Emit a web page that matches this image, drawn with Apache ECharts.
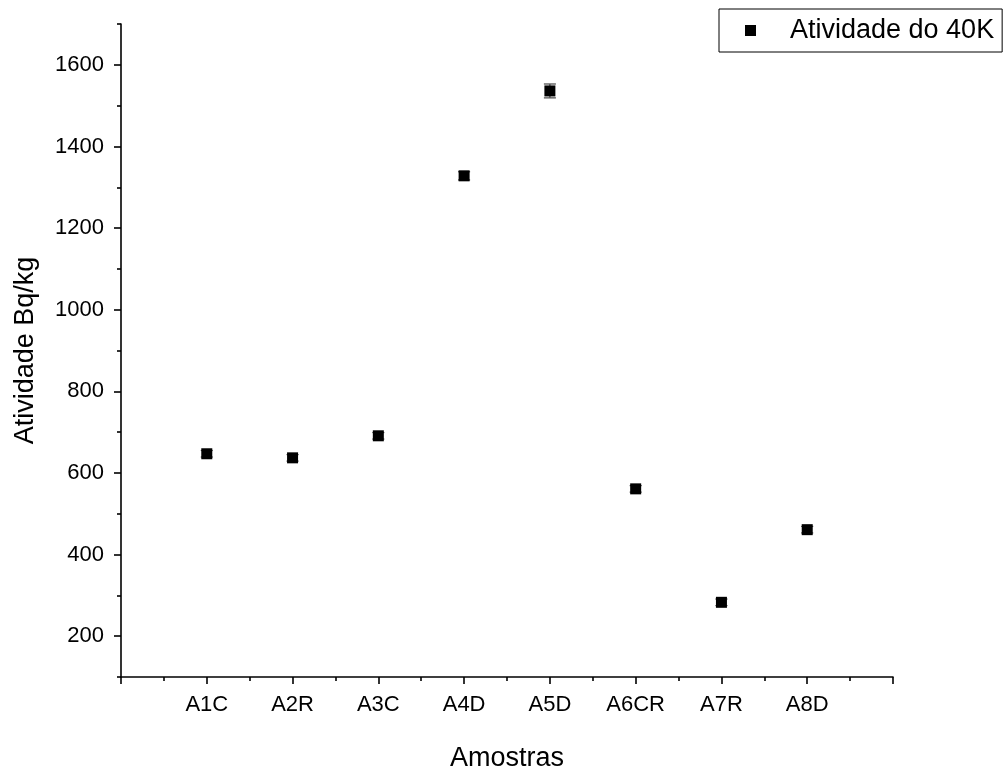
<!DOCTYPE html>
<html>
<head>
<meta charset="utf-8">
<script src="https://cdn.jsdelivr.net/npm/echarts@6/dist/echarts.min.js"></script>
<style>html,body{margin:0;padding:0;background:#fff;}#c{width:1008px;height:772px;}</style>
</head>
<body>
<div id="c"></div>
<script>
const categories = ['A1C', 'A2R', 'A3C', 'A4D', 'A5D', 'A6CR', 'A7R', 'A8D'];
const activity = [647, 637, 691, 1328, 1536, 561, 283, 461];
const activityErr = [8, 8, 8, 10, 17, 8, 8, 8];
const yMajorTicks = [200, 400, 600, 800, 1000, 1200, 1400, 1600];
const seriesName = 'Atividade do 40K';

const FONT = 'Liberation Sans, Arial, sans-serif';
const pts = activity.map((v, i) => [i + 1, v]);
const errData = activity.map((v, i) => [i + 1, v - activityErr[i], v + activityErr[i]]);

const chart = echarts.init(document.getElementById('c'), null, {renderer: 'canvas'});
chart.setOption({
  animation: false,
  backgroundColor: '#fff',
  grid: {left: 121, right: 115, top: 24, bottom: 95, containLabel: false, outerBoundsMode: 'none'},
  legend: {
    left: 719, top: 9,
    orient: 'vertical',
    borderColor: '#000', borderWidth: 1,
    padding: [8, 8, 8, 26],
    itemWidth: 11, itemHeight: 11,
    icon: 'rect',
    itemStyle: {color: '#000', opacity: 1},
    data: [seriesName],
    textStyle: {fontFamily: FONT, fontSize: 27, color: '#000', padding: [0, 0, 0, 29], lineHeight: 27}
  },
  xAxis: {
    type: 'value', min: 0, max: 9, interval: 1,
    axisLine: {show: true, lineStyle: {color: '#000', width: 1.6}},
    axisTick: {show: true, length: 7, lineStyle: {color: '#000', width: 1.6}},
    minorTick: {show: true, splitNumber: 2, length: 4, lineStyle: {color: '#000', width: 1.6}},
    splitLine: {show: false},
    axisLabel: {
      color: '#000', fontFamily: FONT, fontSize: 22, margin: 17,
      formatter: v => (v >= 1 && v <= categories.length) ? categories[v - 1] : ''
    },
    name: 'Amostras', nameLocation: 'middle', nameGap: 68,
    nameTextStyle: {fontFamily: FONT, fontSize: 27, color: '#000'}
  },
  yAxis: [{
    type: 'value', min: 100, max: 1700, interval: 200, position: 'left',
    axisLine: {show: true, lineStyle: {color: '#000', width: 1.6}},
    axisTick: {show: true, length: 4, lineStyle: {color: '#000', width: 1.6}},
    axisLabel: {show: false},
    splitLine: {show: false},
    name: 'Atividade Bq/kg', nameLocation: 'middle', nameGap: 82,
    nameTextStyle: {fontFamily: FONT, fontSize: 27, color: '#000'}
  }, {
    type: 'value', min: 100, max: 1700, interval: 100, position: 'left', offset: 0,
    axisLine: {show: false},
    axisTick: {show: true, length: 7, customValues: yMajorTicks, lineStyle: {color: '#000', width: 1.6}},
    axisLabel: {show: true, customValues: yMajorTicks, color: '#000', fontFamily: FONT, fontSize: 22, margin: 17,
      formatter: v => String(v)},
    splitLine: {show: false}
  }],
  series: [{
    type: 'custom',
    name: 'err',
    yAxisIndex: 0,
    silent: true,
    z: 1,
    data: errData,
    renderItem: function (params, api) {
      const x = api.value(0);
      const lo = api.coord([x, api.value(1)]);
      const hi = api.coord([x, api.value(2)]);
      const hw = 6;
      const st = {stroke: '#444', lineWidth: 1.2};
      return {type: 'group', children: [
        {type: 'line', shape: {x1: lo[0], y1: lo[1], x2: hi[0], y2: hi[1]}, style: st},
        {type: 'line', shape: {x1: lo[0] - hw, y1: lo[1], x2: lo[0] + hw, y2: lo[1]}, style: st},
        {type: 'line', shape: {x1: hi[0] - hw, y1: hi[1], x2: hi[0] + hw, y2: hi[1]}, style: st}
      ]};
    }
  }, {
    type: 'scatter',
    name: seriesName,
    yAxisIndex: 0,
    z: 2,
    symbol: 'rect',
    symbolSize: 11,
    itemStyle: {color: '#000', opacity: 1},
    data: pts
  }]
});
</script>
</body>
</html>
